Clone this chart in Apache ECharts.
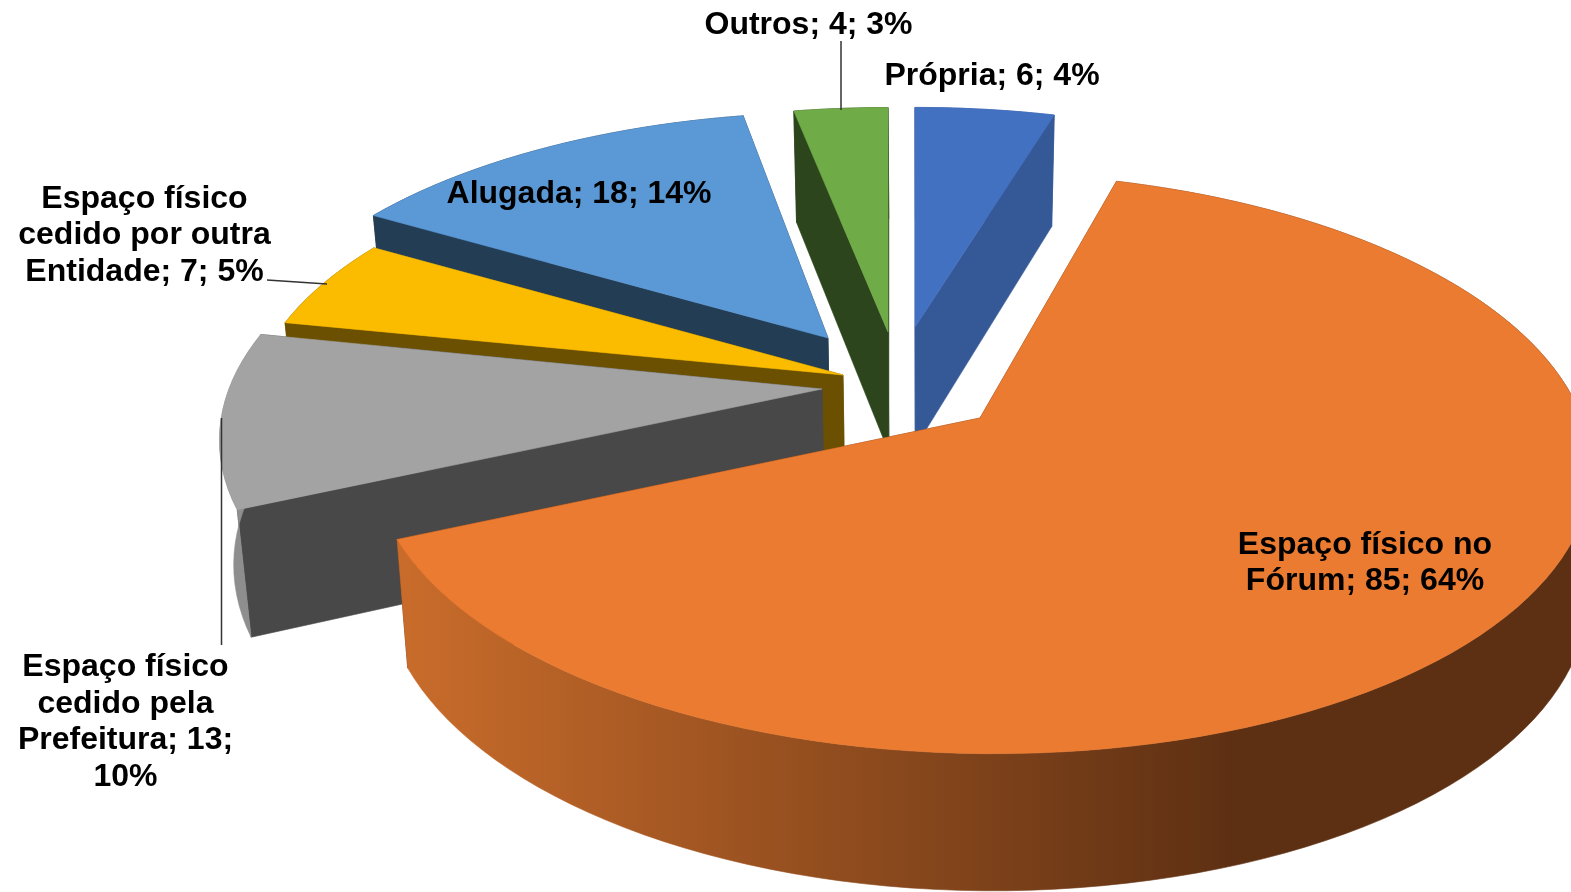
<!DOCTYPE html>
<html>
<head>
<meta charset="utf-8">
<title>Espaço físico</title>
<script src="https://cdn.jsdelivr.net/npm/echarts@6/dist/echarts.min.js"></script>
<style>
html,body{margin:0;padding:0;background:#fff;}
#main{width:1571px;height:892px;}
</style>
</head>
<body>
<div id="main"></div>
<script>
// dados
var categories = ['Própria','Espaço físico no Fórum','Espaço físico cedido pela Prefeitura','Espaço físico cedido por outra Entidade','Alugada','Outros'];
var values = [6,85,13,7,18,4];
var percents = [4,64,10,5,14,3];

// palavras por linha em cada rotulo
var labelWraps = [[4],[3,3],[2,2,2,1],[2,3,3],[3],[3]];

// aparencia de cada fatia
var topColors = ['#4371C2','#EA7B31','#A3A3A3','#FBBC00','#5B99D6','#6FAB47'];
var wallColors = ['#355997','#5E3013','#484848','#6A5000','#233D54','#2D451C'];
var arcColors = ['#355997',null,'#8E8E8E','#6A5000','#233D54','#2D451C'];
var tips = [[915,327],[980,418],[822,389],[843,375],[828,338],[888,332]];
var scaleX = [0.96,1.01,0.995,0.985,0.965,0.97];
var scaleY = [0.9,1.005,1,0.96,0.925,0.92];
var shear = [0,0.042,-0.045,0,-0.04,0];
var drawOrder = [4,3,2,5,0,1];
var labelPos = [[992,76],[1365,563],[125.5,722],[144.5,235.5],[579,194],[808.5,25]];
var leaders = [[[841,41],[841,110]],[[267,280],[327,284]],[[221.5,418],[221.5,645]]];

var RX = 596, RY = 282, PERSP = 0.1557;

var total = values.reduce(function(a,b){return a+b;},0);
var angles = [];
var acc = 0;
values.forEach(function(v){
    angles.push([acc/total*360,(acc+v)/total*360]);
    acc += v;
});

function pointAt(i,deg){
    var t = deg*Math.PI/180;
    var w = 1+PERSP*Math.cos(t);
    var dy = -scaleY[i]*RY*Math.cos(t)/w;
    return [
        tips[i][0]+scaleX[i]*RX*Math.sin(t)/w+shear[i]*dy,
        tips[i][1]+dy
    ];
}
// ponto correspondente na base da fatia
function dropped(p){
    return [p[0]+(930-Math.min(p[0],1080))*0.02,p[1]+107+0.04*p[1]];
}
function poly(points,fill,z){
    return {
        type:'polygon',
        z2:z,
        shape:{points:points},
        style:{fill:fill,stroke:fill,lineWidth:0.6}
    };
}

function renderSlice(params,api){
    var i = api.value(0);
    var a0 = angles[i][0], a1 = angles[i][1];
    var tip = tips[i];
    var arc = [];
    var steps = Math.max(4,Math.ceil((a1-a0)/2));
    for(var k=0;k<=steps;k++){
        arc.push(pointAt(i,a0+(a1-a0)*k/steps));
    }
    var first = arc[0], last = arc[arc.length-1];
    var arcFill = arcColors[i];
    if(!arcFill){
        arcFill = new echarts.graphic.LinearGradient(400,0,1230,0,[
            {offset:0,color:'#C96C2B'},
            {offset:1,color:'#5E3013'}
        ],true);
    }
    var arcWall = arc.concat(arc.slice().reverse().map(dropped));
    return {
        type:'group',
        children:[
            poly([tip,first,dropped(first),dropped(tip)],wallColors[i],1),
            poly([tip,last,dropped(last),dropped(tip)],wallColors[i],1),
            poly(arcWall,arcFill,2),
            poly([tip].concat(arc),topColors[i],3)
        ]
    };
}

function renderLabel(params,api){
    var i = api.value(0);
    var words = (categories[i]+'; '+values[i]+'; '+percents[i]+'%').split(' ');
    var lines = [];
    var n = 0;
    labelWraps[i].forEach(function(c){
        lines.push(words.slice(n,n+c).join(' '));
        n += c;
    });
    return {
        type:'text',
        style:{
            text:lines.join('\n'),
            x:labelPos[i][0],
            y:labelPos[i][1],
            align:'center',
            verticalAlign:'middle',
            fontFamily:'"Liberation Sans", Arial, sans-serif',
            fontWeight:'bold',
            fontSize:32,
            lineHeight:36.5,
            fill:'#000'
        }
    };
}

function renderLeader(params,api){
    var l = leaders[api.value(0)];
    return {
        type:'line',
        shape:{x1:l[0][0],y1:l[0][1],x2:l[1][0],y2:l[1][1]},
        style:{stroke:'#333',lineWidth:1.5}
    };
}

var chart = echarts.init(document.getElementById('main'));
chart.setOption({
    animation:false,
    backgroundColor:'#fff',
    series:[
        {
            type:'custom',
            coordinateSystem:'none',
            renderItem:renderSlice,
            data:drawOrder.map(function(i){return [i];}),
            silent:true,
            z:1
        },
        {
            type:'custom',
            coordinateSystem:'none',
            renderItem:renderLeader,
            data:leaders.map(function(l,i){return [i];}),
            silent:true,
            z:2
        },
        {
            type:'custom',
            coordinateSystem:'none',
            renderItem:renderLabel,
            data:categories.map(function(c,i){return [i];}),
            silent:true,
            z:3
        }
    ]
});
</script>
</body>
</html>
